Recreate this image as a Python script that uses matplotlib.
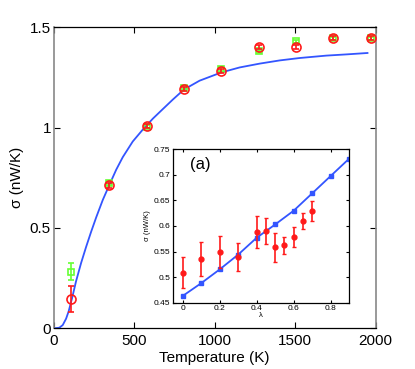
import matplotlib
matplotlib.use("Agg")
import matplotlib.pyplot as plt
from matplotlib.ticker import FuncFormatter

# ---------------- data: main panel ----------------
temp_red = [110, 346, 579, 809, 1041, 1275, 1505, 1737, 1969]
sigma_red = [0.146, 0.712, 1.006, 1.193, 1.280, 1.402, 1.400, 1.445, 1.445]
err_red = [0.065, 0.012, 0.010, 0.010, 0.010, 0.010, 0.010, 0.010, 0.010]

temp_green = [110, 346, 579, 809, 1041, 1275, 1505, 1737, 1969]
sigma_green = [0.283, 0.723, 1.005, 1.200, 1.292, 1.380, 1.430, 1.445, 1.445]
err_green = [0.040, 0.010, 0.008, 0.008, 0.008, 0.008, 0.008, 0.008, 0.008]

temp_curve = [4, 35, 56, 77, 93, 114, 139, 170, 201, 232, 264, 305, 346,
              388, 429, 491, 553, 616, 668, 740, 809, 906, 1041, 1155, 1279,
              1404, 1528, 1694, 1818, 1949]
sigma_curve = [0.0, 0.003, 0.016, 0.048, 0.085, 0.150, 0.235, 0.325, 0.405,
               0.480, 0.553, 0.640, 0.715, 0.790, 0.853, 0.931, 0.990, 1.045,
               1.085, 1.140, 1.190, 1.234, 1.275, 1.300, 1.319, 1.335, 1.347,
               1.359, 1.365, 1.372]

main_xticks = [0, 500, 1000, 1500, 2000]
main_yticks = [0, 0.5, 1, 1.5]

# ---------------- data: inset ----------------
lam_blue = [0.0, 0.1, 0.2, 0.3, 0.4, 0.5, 0.6, 0.7, 0.8, 0.9]
sig_blue = [0.463, 0.488, 0.515, 0.544, 0.577, 0.603, 0.630, 0.664, 0.698, 0.732]

lam_red = [0.0, 0.1, 0.2, 0.3, 0.4, 0.45, 0.5, 0.55, 0.6, 0.65, 0.7]
sig_red_in = [0.509, 0.535, 0.549, 0.539, 0.588, 0.590, 0.558, 0.562, 0.578, 0.610, 0.629]
err_red_in = [0.031, 0.033, 0.031, 0.027, 0.032, 0.025, 0.028, 0.016, 0.020, 0.016, 0.020]

inset_xticks = [0, 0.2, 0.4, 0.6, 0.8]
inset_yticks = [0.45, 0.5, 0.55, 0.6, 0.65, 0.7, 0.75]

RED = "#ff1a1a"
GREEN = "#66ff33"
BLUE = "#3355ff"

plt.rcParams['font.family'] = ['Liberation Sans', 'DejaVu Sans']

fig = plt.figure(figsize=(4.15, 3.69), dpi=100)
ax = fig.add_axes([0.1294, 0.1103, 0.7759, 0.8157])

ax.plot(temp_curve, sigma_curve, color=BLUE, lw=1.3, zorder=2)
ax.errorbar(temp_green, sigma_green, yerr=err_green, fmt='s', ms=5,
            mfc='none', mec=GREEN, mew=1.2, ecolor=GREEN, elinewidth=1.2,
            capsize=2.5, capthick=1.2, zorder=3)
ax.errorbar(temp_red, sigma_red, yerr=err_red, fmt='o', ms=6.5,
            mfc='none', mec=RED, mew=1.2, ecolor=RED, elinewidth=1.2,
            capsize=2.5, capthick=1.2, zorder=4)

ax.set_xlim(0, 2000)
ax.set_ylim(0, 1.5)
ax.set_xticks(main_xticks)
ax.set_yticks(main_yticks)
ax.yaxis.set_major_formatter(FuncFormatter(lambda v, p: f"{v:g}"))
ax.tick_params(direction='in', top=True, right=True, length=4,
               labelsize=11, pad=2)
ax.tick_params(axis='x', pad=4)
ax.set_xlabel("Temperature (K)", fontsize=11, labelpad=2)
ax.set_ylabel("σ (nW/K)", fontsize=11, labelpad=4)
for side in ['left', 'right']:
    ax.spines[side].set_color('#888888')
    ax.spines[side].set_linewidth(1.2)
for side in ['top', 'bottom']:
    ax.spines[side].set_linewidth(0.9)

# ---------------- inset ----------------
ai = fig.add_axes([0.4176, 0.1797, 0.4241, 0.4157])
ai.plot(lam_blue, sig_blue, color=BLUE, lw=1.3, marker='s', ms=2.2,
        mfc=BLUE, mec=BLUE, zorder=2)
ai.errorbar(lam_red, sig_red_in, yerr=err_red_in, fmt='o', ms=3.5,
            mfc=RED, mec=RED, ecolor=RED, elinewidth=1.2,
            capsize=1.5, capthick=1.0, zorder=3)
ai.set_xlim(-0.05, 0.9)
ai.set_ylim(0.45, 0.75)
ai.set_xticks(inset_xticks)
ai.set_yticks(inset_yticks)
ai.xaxis.set_major_formatter(FuncFormatter(lambda v, p: f"{v:g}"))
ai.yaxis.set_major_formatter(FuncFormatter(lambda v, p: f"{v:g}"))
ai.tick_params(direction='in', top=True, right=True, length=2.5,
               labelsize=6, pad=2)
ai.set_xlabel("λ", fontsize=5.5, labelpad=0)
ai.set_ylabel("σ (nW/K)", fontsize=5.5, labelpad=2)
for s in ai.spines.values():
    s.set_linewidth(0.9)
ai.text(0.04, 0.72, "(a)", fontsize=12, ha='left', va='center')

fig.savefig("out.png", dpi=100)
